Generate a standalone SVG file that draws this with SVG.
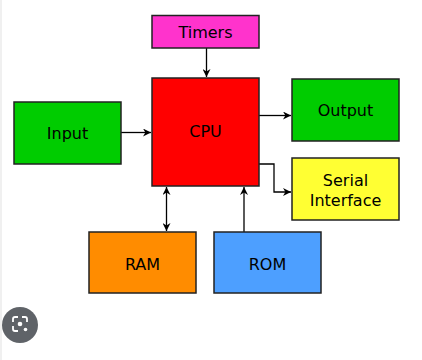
<svg xmlns="http://www.w3.org/2000/svg" width="422" height="360" viewBox="0 0 422 360">
<defs>
<style>
.box{stroke:#222;stroke-width:1.5}
.lbl{font-family:"DejaVu Sans",Verdana,sans-serif;font-size:16px;fill:#000;text-anchor:middle;dominant-baseline:central}
.conn{fill:none;stroke:#000;stroke-width:1.3}
</style>
<marker id="ah" viewBox="0 0 10 10" refX="10" refY="5" markerWidth="8" markerHeight="8" markerUnits="userSpaceOnUse" orient="auto-start-reverse">
<path d="M0,0 L10,5 L0,10 L3,5 Z" fill="#000"/>
</marker>
</defs>
<rect x="0" y="0" width="422" height="360" fill="#fff"/>
<rect x="0" y="0" width="2" height="360" fill="#f0f0f0"/>
<g id="connectors">
<line class="conn" x1="206.5" y1="48" x2="206.5" y2="77" marker-end="url(#ah)"/>
<line class="conn" x1="121" y1="132.5" x2="151" y2="132.5" marker-end="url(#ah)"/>
<line class="conn" x1="259" y1="115.5" x2="291" y2="115.5" marker-end="url(#ah)"/>
<polyline class="conn" points="259,164 274,164 274,192 291,192" marker-end="url(#ah)"/>
<line class="conn" x1="166.5" y1="187" x2="166.5" y2="231" marker-start="url(#ah)" marker-end="url(#ah)"/>
<line class="conn" x1="244" y1="232" x2="244" y2="187" marker-end="url(#ah)"/>
</g>
<g id="timers"><rect class="box" x="152" y="15.5" width="107" height="32.5" fill="#ff33cc"/><text class="lbl" x="205.5" y="32">Timers</text></g>
<g id="cpu"><rect class="box" x="152" y="78" width="107" height="108" fill="#ff0000"/><text class="lbl" x="205.5" y="131">CPU</text></g>
<g id="input"><rect class="box" x="14" y="102" width="107" height="62" fill="#00cc00"/><text class="lbl" x="67.5" y="133">Input</text></g>
<g id="output"><rect class="box" x="292" y="79" width="107" height="62" fill="#00cc00"/><text class="lbl" x="345.5" y="110">Output</text></g>
<g id="serial"><rect class="box" x="292" y="158" width="107" height="62" fill="#ffff33"/><text class="lbl" x="345.5" y="180">Serial</text><text class="lbl" x="345.5" y="200">Interface</text></g>
<g id="ram"><rect class="box" x="89" y="232" width="107" height="61" fill="#ff8c00"/><text class="lbl" x="142.5" y="264">RAM</text></g>
<g id="rom"><rect class="box" x="214" y="232" width="107" height="61" fill="#4d9fff"/><text class="lbl" x="267.5" y="264">ROM</text></g>
<g id="lens">
<circle cx="20" cy="325" r="18" fill="#5f6368"/>
<path d="M13,322 v-3 a2,2 0 0 1 2,-2 h3 M22,317 h3 a2,2 0 0 1 2,2 v3 M13,326 v3 a2,2 0 0 0 2,2 h3" fill="none" stroke="#fff" stroke-width="1.8"/>
<circle cx="20" cy="324" r="2.3" fill="#fff"/>
<circle cx="25.5" cy="329.5" r="1.8" fill="#fff"/>
</g>
</svg>
